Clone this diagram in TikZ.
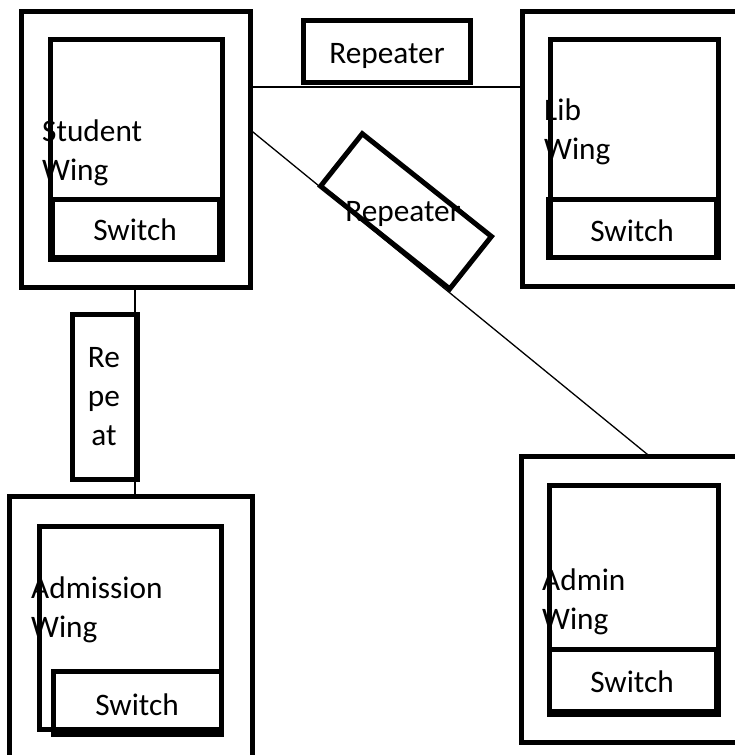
\documentclass[tikz,border=0pt]{standalone}
\usepackage{fontspec}
\setmainfont{Carlito}
\newcommand\labelsize{\fontsize{31.3}{39}\selectfont}
\tikzset{
  frame/.style={draw, line width=5pt, rectangle, inner sep=0pt, outer sep=0pt},
  link/.style={line width=1.3pt},
  txt/.style={inner sep=0pt, font=\labelsize},
}
\begin{document}
\begin{tikzpicture}[x=1pt, y=-1pt]
\path[use as bounding box, clip] (0,0) rectangle (735,755);

% Student wing
\node[frame, minimum width=229pt, minimum height=276pt] (student) at (136,149.5) {};
\node[frame, minimum width=172pt, minimum height=220pt] (studentIn) at (136.5,149.5) {};
\node[frame, minimum width=167pt, minimum height=58pt] (studentSw) at (135.5,228.5) {};
\node[txt, anchor=base] (studentSwT) at (135,240) {Switch};
\node[txt, anchor=base west, align=left] (studentT) at (42,180) {Student\\Wing};

% Library wing
\node[frame, minimum width=238pt, minimum height=274.5pt] (lib) at (641,148.75) {};
\node[frame, minimum width=168pt, minimum height=218pt] (libIn) at (634,148.5) {};
\node[frame, minimum width=167.5pt, minimum height=58pt] (libSw) at (632.25,228) {};
\node[txt, anchor=base] (libSwT) at (632,241) {Switch};
\node[txt, anchor=base west, align=left] (libT) at (544,159) {Lib\\Wing};

% Admission wing
\node[frame, minimum width=243pt, minimum height=283.5pt] (admission) at (131,638.25) {};
\node[frame, minimum width=182pt, minimum height=203pt] (admissionIn) at (130.5,628) {};
\node[frame, minimum width=168pt, minimum height=63pt] (admissionSw) at (137.5,703) {};
\node[txt, anchor=base] (admissionSwT) at (137,715) {Switch};
\node[txt, anchor=base west, align=left] (admissionT) at (31,637) {Admission\\Wing};

% Admin wing
\node[frame, minimum width=239pt, minimum height=285.5pt] (admin) at (640.5,599.25) {};
\node[frame, minimum width=169pt, minimum height=228.5pt] (adminIn) at (634,599.75) {};
\node[frame, minimum width=166.5pt, minimum height=61.5pt] (adminSw) at (632.75,680.25) {};
\node[txt, anchor=base] (adminSwT) at (632,692) {Switch};
\node[txt, anchor=base west, align=left] (adminT) at (542,629) {Admin\\Wing};

% Cables between the wings
\draw[link] (student.east |- 0,87) -- (lib.west |- 0,87);
\draw[link] (student.east |- 0,130) -- (admin.north -| 650,0);
\draw[link] (student.south -| 135,0) -- (admission.north -| 135,0);

% Repeaters on the cables
\node[frame, minimum width=167pt, minimum height=62.5pt] (rep1) at (387,51.25) {};
\node[txt, anchor=base] (rep1T) at (387,63) {Repeater};

\node[frame, minimum width=165pt, minimum height=67pt, rotate=-38.5] (rep2) at (406,211.3) {};
\node[txt, anchor=base] (rep2T) at (403,221) {Repeater};

\node[frame, minimum width=64.5pt, minimum height=165pt] (rep3) at (104.75,397) {};
\node[txt, anchor=base, align=center] (rep3T) at (104,445) {Re\\pe\\at};
\end{tikzpicture}
\end{document}
